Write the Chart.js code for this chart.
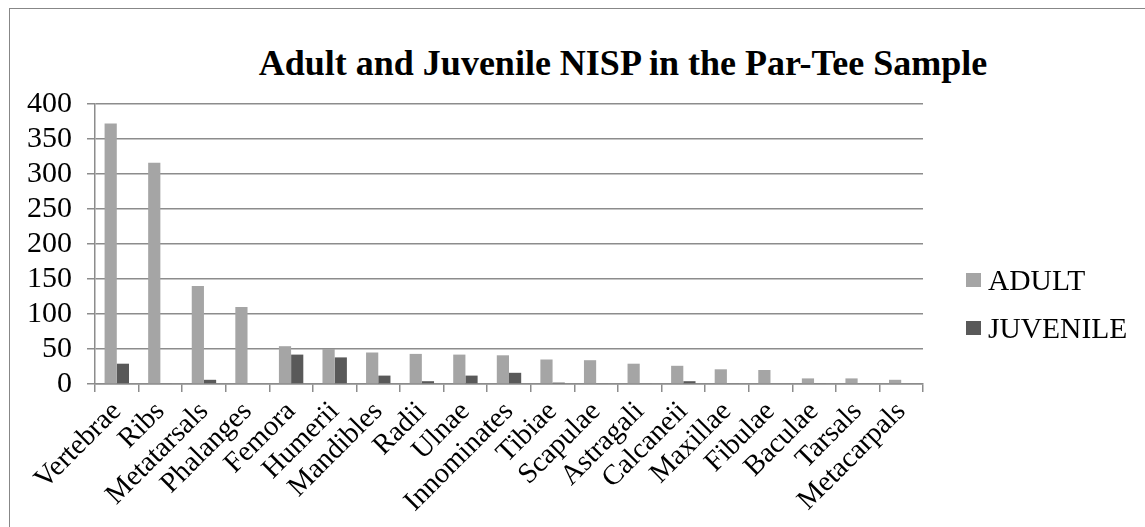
<!DOCTYPE html>
<html>
<head>
<meta charset="utf-8">
<title>Adult and Juvenile NISP in the Par-Tee Sample</title>
<script src="https://cdn.jsdelivr.net/npm/chart.js@4.4.1/dist/chart.umd.min.js"></script>
<style>
  html, body {
    margin: 0;
    padding: 0;
    width: 1145px;
    height: 527px;
    overflow: hidden;
    background: #fff;
    font-family: "Liberation Serif", "Times New Roman", serif;
  }
  /* outer chart frame, runs off the right and bottom edges */
  #frame {
    position: absolute;
    left: 9px;
    top: 8px;
    width: 1300px;
    height: 600px;
    border: 1px solid #878787;
  }
  #chartTitle {
    position: absolute;
    left: 0;
    top: 41px;
    width: 1246px;
    margin: 0;
    text-align: center;
    font-size: 36px;
    line-height: 44px;
    font-weight: bold;
    color: #000;
  }
  #chart {
    position: absolute;
    left: 0;
    top: 0;
  }
  #legend {
    position: absolute;
    left: 966px;
    top: 256px;
  }
  .legend-row {
    display: flex;
    align-items: center;
    height: 48px;
    font-size: 29.5px;
    line-height: 48px;
    color: #000;
  }
  .legend-box {
    width: 15px;
    height: 14px;
    margin-right: 7px;
  }
</style>
</head>
<body>
<div id="frame"></div>
<h1 id="chartTitle">Adult and Juvenile NISP in the Par-Tee Sample</h1>
<canvas id="chart" width="1145" height="527"></canvas>
<div id="legend"></div>

<script>
// === Data ===
const elements = ['Vertebrae', 'Ribs', 'Metatarsals', 'Phalanges', 'Femora', 'Humerii',
  'Mandibles', 'Radii', 'Ulnae', 'Innominates', 'Tibiae', 'Scapulae', 'Astragali',
  'Calcaneii', 'Maxillae', 'Fibulae', 'Baculae', 'Tarsals', 'Metacarpals'];
const adult = [372, 316, 140, 110, 54, 50, 45, 43, 42, 41, 35, 34, 29, 26, 21, 20, 8, 8, 6];
const juvenile = [29, 1, 6, 0, 42, 38, 12, 4, 12, 16, 2, 1, 1, 4, 1, 0, 1, 0, 0];
const yTicks = [0, 50, 100, 150, 200, 250, 300, 350, 400];

const serif = '"Liberation Serif", "Times New Roman", serif';
const gridColor = '#8c8c8c';

const chart = new Chart(document.getElementById('chart'), {
  type: 'bar',
  data: {
    labels: elements,
    datasets: [
      { label: 'ADULT', data: adult, backgroundColor: '#a5a5a5' },
      { label: 'JUVENILE', data: juvenile, backgroundColor: '#595959' }
    ]
  },
  options: {
    responsive: false,
    animation: false,
    devicePixelRatio: 1,
    layout: { padding: { left: 10, top: 104, right: 222, bottom: 0 } },
    datasets: {
      bar: { categoryPercentage: 0.56, barPercentage: 1, borderWidth: 0 }
    },
    plugins: {
      legend: { display: false },
      title: { display: false },
      tooltip: { enabled: false }
    },
    scales: {
      x: {
        offset: true,
        afterFit: scale => { scale.height = 143; },
        grid: {
          offset: true,
          drawOnChartArea: false,
          tickLength: 8,
          color: gridColor,
          lineWidth: 1.5
        },
        border: { color: gridColor, width: 1.5 },
        ticks: {
          autoSkip: false,
          minRotation: 45,
          maxRotation: 45,
          padding: 3,
          color: '#000',
          font: { family: serif, size: 28.5 }
        }
      },
      y: {
        min: 0,
        max: yTicks[yTicks.length - 1],
        afterFit: scale => { scale.width = 85; },
        afterBuildTicks: scale => { scale.ticks = yTicks.map(v => ({ value: v })); },
        grid: { tickLength: 8, color: gridColor, lineWidth: 1.5 },
        border: { color: gridColor, width: 1.5 },
        ticks: {
          autoSkip: false,
          padding: 15,
          color: '#000',
          font: { family: serif, size: 30 }
        }
      }
    }
  }
});

// === Legend ===
const legendEl = document.getElementById('legend');
chart.data.datasets.forEach(ds => {
  const row = document.createElement('div');
  row.className = 'legend-row';
  row.innerHTML = `<span class="legend-box" style="background:${ds.backgroundColor}"></span>${ds.label}`;
  legendEl.appendChild(row);
});
</script>
</body>
</html>
